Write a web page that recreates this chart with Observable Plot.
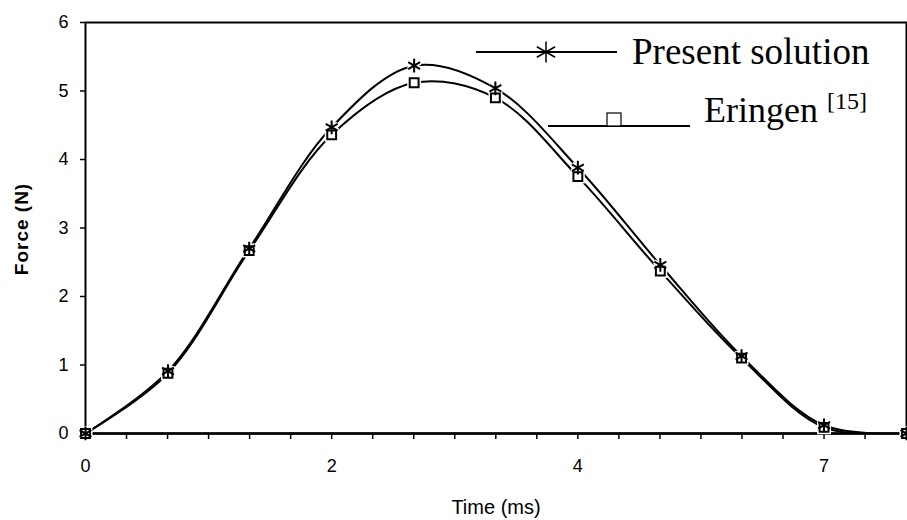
<!DOCTYPE html>
<html><head><meta charset="utf-8">
<script src="https://cdn.jsdelivr.net/npm/d3@7"></script>
<script src="https://cdn.jsdelivr.net/npm/@observablehq/plot@0.6"></script>
<style>body{margin:0;background:#fff} #chart{width:907px;height:520px}</style>
</head><body><div id="chart"></div>
<script>
// Data
const time = [0, 0.67, 1.33, 2, 2.67, 3.33, 4, 4.67, 5.33, 6, 6.67];
const presentSolution = [0, 0.91, 2.70, 4.47, 5.37, 5.04, 3.88, 2.46, 1.13, 0.12, 0];
const eringen = [0, 0.88, 2.67, 4.36, 5.12, 4.90, 3.75, 2.37, 1.10, 0.09, 0];
const xTickValues = [0, 2, 4, 6];
const xTickLabels = ["0", "2", "4", "7"];
const yTicks = [0, 1, 2, 3, 4, 5, 6];
const seriesNames = ["Present solution", "Eringen"];
const eringenRef = "[15]";
const xLabel = "Time (ms)";
const yLabel = "Force (N)";

const xMinorTicks = d3.range(0, 21).map(i => i / 3);
const data = time.map((t, i) => ({t, present: presentSolution[i], eringen: eringen[i]}));

const svg = Plot.plot({
  width: 907, height: 520,
  marginLeft: 85, marginRight: 1, marginTop: 22, marginBottom: 87,
  style: {fontFamily: "'Liberation Sans', Arial, sans-serif", fontSize: "18px", color: "black", background: "white"},
  x: {domain: [0, 6.67]},
  y: {domain: [0, 6]},
  marks: [
    Plot.axisY(yTicks, {tickSize: 5, tickPadding: 12, fontSize: 18, label: null, strokeWidth: 1.5, tickFormat: d => String(d)}),
    Plot.axisX(xMinorTicks, {tickSize: 6, tickPadding: 20, fontSize: 18, label: null, strokeWidth: 1.5,
      tickFormat: d => { const k = xTickValues.findIndex(v => Math.abs(v - d) < 1e-6); return k >= 0 ? xTickLabels[k] : ""; }}),
    Plot.frame({stroke: "black", strokeWidth: 2}),
    Plot.ruleY([0], {stroke: "black", strokeWidth: 2.5}),
    Plot.line(data, {x: "t", y: "present", curve: "catmull-rom", stroke: "black", strokeWidth: 2, clip: "frame"}),
    Plot.line(data, {x: "t", y: "eringen", curve: "catmull-rom", stroke: "black", strokeWidth: 2, clip: "frame"}),
    Plot.dot(data, {x: "t", y: "present", symbol: "asterisk", r: 6.5, stroke: "white", strokeWidth: 5}),
    Plot.dot(data, {x: "t", y: "eringen", symbol: "square", r: 5, stroke: "white", strokeWidth: 5, fill: "white"}),
    Plot.dot(data, {x: "t", y: "eringen", symbol: "square", r: 5, stroke: "black", strokeWidth: 2, fill: "white"}),
    Plot.dot(data, {x: "t", y: "present", symbol: "asterisk", r: 6.5, stroke: "black", strokeWidth: 2})
  ]
});

const s = d3.select(svg);
// axis titles
s.append("text").attr("transform", "translate(28,229) rotate(-90)")
  .attr("text-anchor", "middle").attr("font-family", "'Liberation Sans', Arial, sans-serif")
  .attr("font-weight", "bold").attr("font-size", 19).attr("letter-spacing", 1)
  .attr("fill", "black").text(yLabel);
s.append("text").attr("x", 496).attr("y", 514)
  .attr("text-anchor", "middle").attr("font-family", "'Liberation Sans', Arial, sans-serif")
  .attr("font-size", 20).attr("fill", "black").text(xLabel);

// legend
const lg = s.append("g").attr("font-family", "'Liberation Serif', 'Times New Roman', serif")
  .attr("fill", "black").attr("text-anchor", "start");
lg.append("line").attr("x1", 476).attr("x2", 617).attr("y1", 52).attr("y2", 52).attr("stroke", "black").attr("stroke-width", 2);
lg.append("path").attr("d", d3.symbol(d3.symbolAsterisk, Math.PI * 10 * 10)()).attr("transform", "translate(546,52)")
  .attr("stroke", "black").attr("stroke-width", 1.5).attr("fill", "none");
lg.append("text").attr("x", 632).attr("y", 64).attr("font-size", 37).attr("text-anchor", "start").text(seriesNames[0]);

lg.append("line").attr("x1", 548).attr("x2", 690).attr("y1", 126).attr("y2", 126).attr("stroke", "black").attr("stroke-width", 2);
lg.append("rect").attr("x", 607).attr("y", 113).attr("width", 14).attr("height", 13)
  .attr("stroke", "black").attr("stroke-width", 1.2).attr("fill", "white");
const et = lg.append("text").attr("x", 704).attr("y", 122).attr("font-size", 36).attr("text-anchor", "start");
et.append("tspan").text(seriesNames[1] + " ");
et.append("tspan").attr("font-size", 24).attr("dy", -13).text(eringenRef);

document.getElementById("chart").appendChild(svg);
</script>
</body></html>
